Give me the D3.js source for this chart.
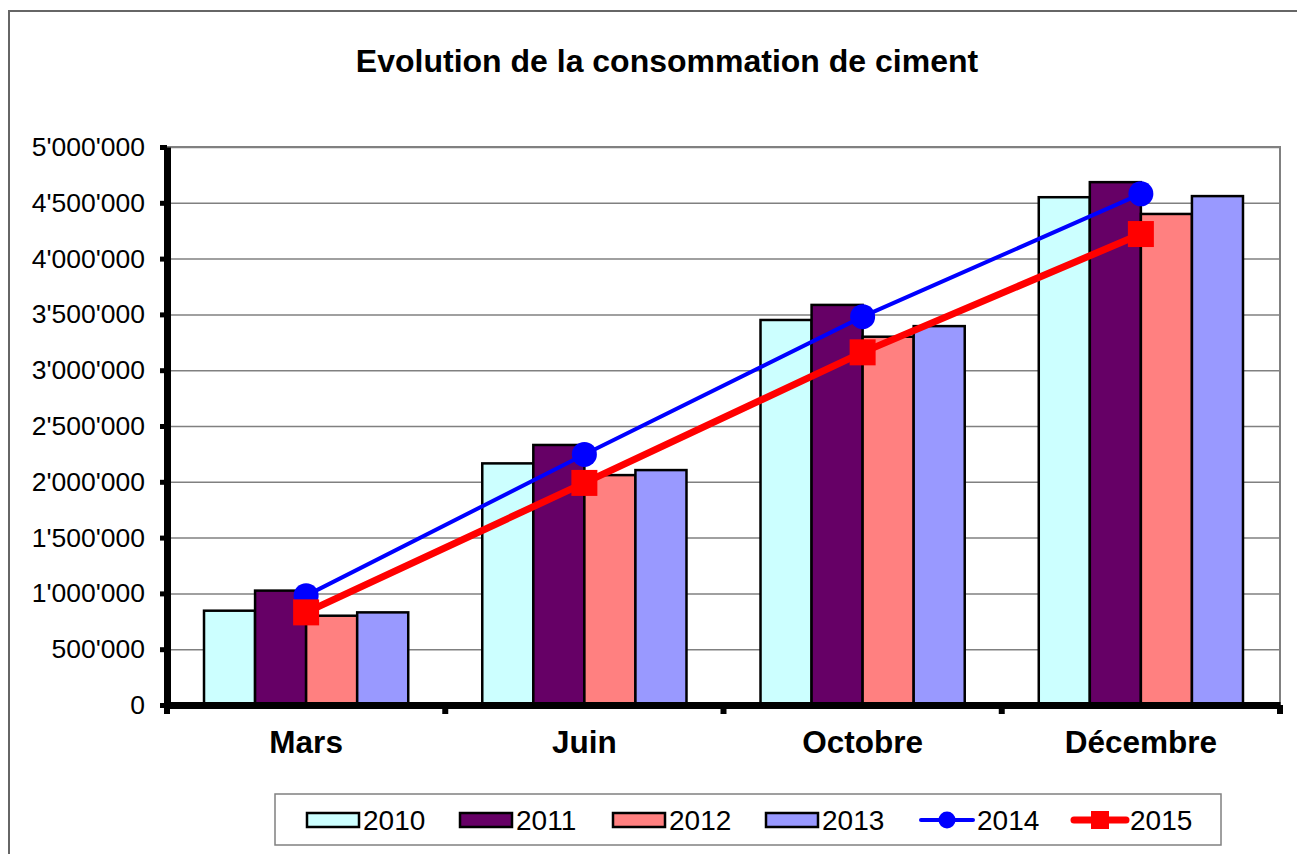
<!DOCTYPE html>
<html>
<head>
<meta charset="utf-8">
<script src="https://cdn.jsdelivr.net/npm/d3@7"></script>
<style>
  body { margin: 0; background: #fff; }
  svg text { font-family: Arial, "Liberation Sans", sans-serif; fill: #000; }
</style>
</head>
<body>
<svg id="chart" width="1297" height="854"></svg>
<script>
var categories = ['Mars', 'Juin', 'Octobre', 'Décembre'];
var barYears = ['2010', '2011', '2012', '2013'];
var s2010 = [845000, 2165000, 3450000, 4550000];
var s2011 = [1025000, 2330000, 3585000, 4685000];
var s2012 = [800000, 2060000, 3300000, 4400000];
var s2013 = [830000, 2105000, 3395000, 4560000];
var s2014 = [980000, 2245000, 3480000, 4580000];
var s2015 = [830000, 1990000, 3160000, 4220000];
var yTicks = [0, 500000, 1000000, 1500000, 2000000, 2500000, 3000000, 3500000, 4000000, 4500000, 5000000];

var barSeries = [s2010, s2011, s2012, s2013];
var barColors = ['#ccffff', '#660066', '#ff8080', '#9999ff'];

var margin = { top: 147, right: 17, bottom: 149, left: 167 },
  width = 1297 - margin.left - margin.right,
  height = 854 - margin.top - margin.bottom;

var fmt = d3.formatLocale({ decimal: '.', thousands: "'", grouping: [3], currency: ['', ''] }).format(',');

var svg = d3.select('#chart');

// outer chart border
svg.append('rect').attr('x', 9).attr('y', 11).attr('width', 1300).attr('height', 860)
  .attr('fill', '#fff').attr('stroke', '#666').attr('stroke-width', 2);

svg.append('text').attr('x', 667).attr('y', 72).attr('text-anchor', 'middle')
  .style('font-size', '32px').style('font-weight', 'bold')
  .text('Evolution de la consommation de ciment');

var g = svg.append('g').attr('transform', 'translate(' + margin.left + ',' + margin.top + ')');

var x0 = d3.scaleBand().domain(categories).range([0, width]);
var x1 = d3.scaleBand().domain(barYears).range([0, x0.bandwidth()]).paddingOuter(0.725);
var y = d3.scaleLinear().domain([0, 5000000]).range([height, 0]);

// plot frame + grid
g.append('rect').attr('width', width).attr('height', height).attr('fill', '#fff')
  .attr('stroke', '#808080').attr('stroke-width', 2);
g.append('g').attr('class', 'grid')
  .call(d3.axisLeft(y).tickValues(yTicks).tickSize(-width).tickFormat(''))
  .call(function (s) { s.select('.domain').remove(); })
  .selectAll('line').attr('stroke', '#808080').attr('stroke-width', 1.5);

// bars
categories.forEach(function (c, i) {
  var cg = g.append('g').attr('transform', 'translate(' + x0(c) + ',0)');
  barYears.forEach(function (yr, j) {
    var v = barSeries[j][i];
    cg.append('rect')
      .attr('x', x1(yr)).attr('y', y(v))
      .attr('width', x1.bandwidth()).attr('height', height - y(v))
      .attr('fill', barColors[j]).attr('stroke', '#000').attr('stroke-width', 2.5);
  });
});

// lines
var cx = function (d, i) { return x0(categories[i]) + x0.bandwidth() / 2; };
var line = d3.line().x(cx).y(function (d) { return y(d); });

g.append('path').datum(s2014).attr('d', line).attr('fill', 'none')
  .attr('stroke', '#0000ff').attr('stroke-width', 4);
g.append('path').datum(s2015).attr('d', line).attr('fill', 'none')
  .attr('stroke', '#ff0000').attr('stroke-width', 7);

g.selectAll('.m2014').data(s2014).enter().append('circle')
  .attr('cx', cx).attr('cy', function (d) { return y(d); })
  .attr('r', 12.5).attr('fill', '#0000ff');
g.selectAll('.m2015').data(s2015).enter().append('rect')
  .attr('x', function (d, i) { return cx(d, i) - 13; })
  .attr('y', function (d) { return y(d) - 13; })
  .attr('width', 26).attr('height', 26).attr('fill', '#ff0000');

// y axis
var yAxis = g.append('g').call(d3.axisLeft(y).tickValues(yTicks).tickFormat(fmt).tickSize(7).tickSizeOuter(0));
yAxis.select('.domain').attr('stroke', '#000').attr('stroke-width', 7);
yAxis.selectAll('.tick line').attr('stroke', '#000').attr('stroke-width', 5);
yAxis.selectAll('.tick text').attr('x', -22).style('font-size', '26.5px');

// x axis
var xAxis = g.append('g').attr('transform', 'translate(0,' + height + ')')
  .call(d3.axisBottom(x0).tickSize(0).tickPadding(26));
xAxis.select('.domain').attr('stroke', '#000').attr('stroke-width', 7);
xAxis.selectAll('.tick text').style('font-size', '31.5px').style('font-weight', 'bold');
xAxis.selectAll('.bound').data(categories.map(function (c) { return x0(c); }).concat([width]))
  .enter().append('line').attr('class', 'bound')
  .attr('x1', function (d) { return d; }).attr('x2', function (d) { return d; })
  .attr('y1', 0).attr('y2', 9).attr('stroke', '#000').attr('stroke-width', 6);

// legend
var legend = svg.append('g');
legend.append('rect').attr('x', 275).attr('y', 794).attr('width', 946).attr('height', 51)
  .attr('fill', '#fff').attr('stroke', '#808080').attr('stroke-width', 1.5);

var legendItems = barYears.map(function (yr, j) { return { name: yr, type: 'bar', color: barColors[j] }; })
  .concat([{ name: '2014', type: 'circle', color: '#0000ff' }, { name: '2015', type: 'square', color: '#ff0000' }]);

legendItems.forEach(function (it, i) {
  var lx = 307 + i * 153, ly = 820;
  var lg = legend.append('g').attr('transform', 'translate(' + lx + ',' + ly + ')');
  if (it.type === 'bar') {
    lg.append('rect').attr('x', 0).attr('y', -7).attr('width', 52).attr('height', 14)
      .attr('fill', it.color).attr('stroke', '#000').attr('stroke-width', 2.5);
    lg.append('text').attr('x', 56).attr('y', 10).style('font-size', '28px').text(it.name);
  } else {
    lg.append('line').attr('x1', 2).attr('x2', 54).attr('y1', 0).attr('y2', 0)
      .attr('stroke', it.color).attr('stroke-width', it.type === 'circle' ? 4 : 7).attr('stroke-linecap', 'round');
    if (it.type === 'circle') {
      lg.append('circle').attr('cx', 28).attr('cy', 0).attr('r', 8.5).attr('fill', it.color);
    } else {
      lg.append('rect').attr('x', 19).attr('y', -9).attr('width', 18).attr('height', 18).attr('fill', it.color);
    }
    lg.append('text').attr('x', 58).attr('y', 10).style('font-size', '28px').text(it.name);
  }
});
</script>
</body>
</html>
